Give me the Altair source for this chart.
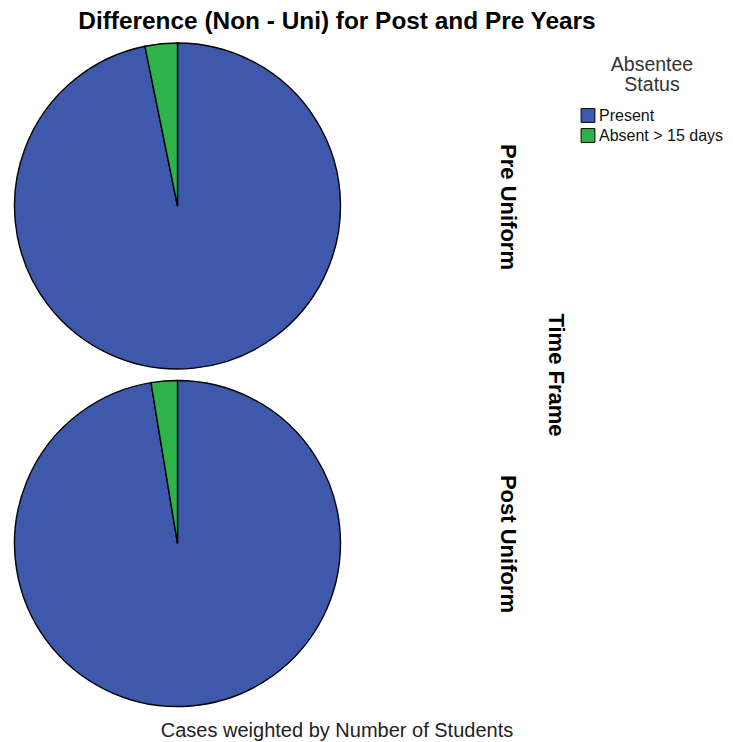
import altair as alt
import pandas as pd

# ---- data ----
time_frames = ["Pre Uniform", "Post Uniform"]
statuses = ["Present", "Absent > 15 days"]
pre_values = [96.8, 3.2]
post_values = [97.4, 2.6]
colors = ["#3E58AC", "#2DB34A"]

title_text = "Difference (Non - Uni) for Post and Pre Years"
facet_title = "Time Frame"
footer_text = "Cases weighted by Number of Students"
legend_title = ["Absentee", "Status"]

FONT = "Liberation Sans"

def pie_df(values):
    return pd.DataFrame({"status": statuses, "value": values, "ord": list(range(len(statuses)))})

color_enc = alt.Color(
    "status:N",
    scale=alt.Scale(domain=statuses, range=colors),
    legend=alt.Legend(
        title=legend_title,
        orient="none",
        legendX=572,
        legendY=48,
        titleFont=FONT,
        titleFontSize=19.5,
        titleFontWeight="normal",
        titleColor="#333333",
        titleAnchor="middle",
        titleAlign="center",
        titleLineHeight=20,
        titlePadding=12,
        labelFont=FONT,
        labelFontSize=16,
        labelColor="#111111",
        labelLimit=300,
        symbolType="square",
        symbolSize=190,
        symbolStrokeColor="black",
        symbolStrokeWidth=1,
        symbolOpacity=1,
        labelOffset=3,
        rowPadding=2,
        padding=0,
    ),
)

def pie(values, cy):
    return alt.Chart(pie_df(values)).mark_arc(
        radius=163, stroke="black", strokeWidth=1.4
    ).encode(
        theta=alt.Theta("value:Q", stack=True),
        color=color_enc,
        order=alt.Order("ord:Q"),
        x=alt.value(169.5),
        y=alt.value(cy),
    )

def label(text, x, y, size, bold=True, angle=0, color="black"):
    return alt.Chart(pd.DataFrame({"t": [text]})).mark_text(
        font=FONT,
        fontSize=size,
        fontWeight="bold" if bold else "normal",
        angle=angle,
        align="center",
        baseline="middle",
        color=color,
    ).encode(text="t:N", x=alt.value(x), y=alt.value(y))

chart = alt.layer(
    pie(pre_values, 198),
    pie(post_values, 535.5),
    label(title_text, 329, 14, 24.4),
    label(time_frames[0], 500, 199, 22, angle=90),
    label(time_frames[1], 500, 536, 22, angle=90),
    label(facet_title, 548, 367, 22, angle=90),
    label(footer_text, 329, 723, 20, bold=False, color="#222222"),
).properties(
    width=717,
    height=734,
    autosize=alt.AutoSizeParams(type="none"),
    padding=0,
).configure_view(stroke=None)

chart.save("out.html", embed_options={"renderer": "svg", "actions": False})
